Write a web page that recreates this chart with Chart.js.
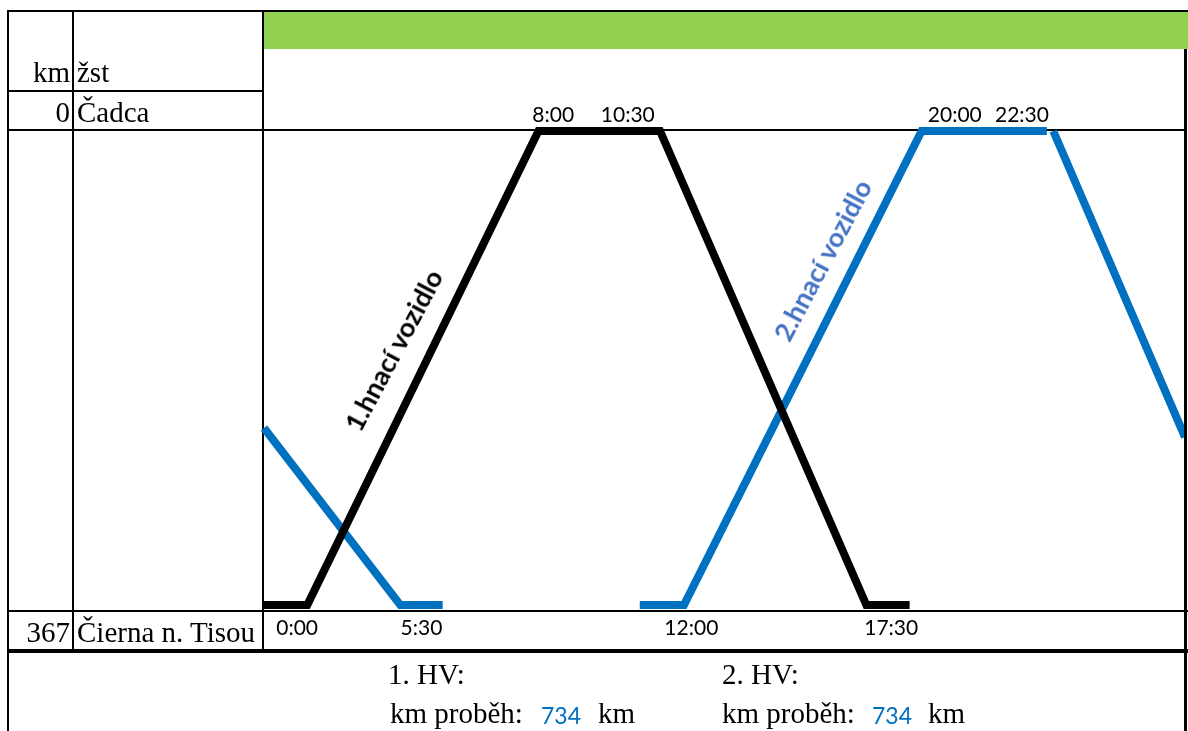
<!DOCTYPE html>
<html>
<head>
<meta charset="utf-8">
<script src="https://cdn.jsdelivr.net/npm/chart.js@4.4.0/dist/chart.umd.min.js"></script>
<style>
body{margin:0;background:#fff;}
#wrap{position:relative;width:1188px;height:731px;overflow:hidden;font-family:"Liberation Serif","Times New Roman",serif;}
#myChart{position:absolute;left:0;top:0;z-index:2;}
.ln{position:absolute;background:#000;z-index:1;}
.top{z-index:3;}
.t{position:absolute;font-size:29px;line-height:29px;white-space:nowrap;color:#000;z-index:3;}
.r{text-align:right;}
.num{position:absolute;font-family:Lato,sans-serif;font-size:23px;line-height:23px;color:#0070C0;z-index:3;}
.rot{position:absolute;font-family:Lato,sans-serif;font-weight:bold;font-size:27px;line-height:27px;white-space:nowrap;z-index:3;transform:translate(-50%,-50%) rotate(-62deg);}
</style>
</head>
<body>
<div id="wrap">
  <div style="position:absolute;left:263px;top:11px;width:925px;height:38px;background:#92D050;"></div>

  <!-- table lines -->
  <div class="ln" style="left:8px;top:10px;width:1180px;height:2px;"></div>
  <div class="ln" style="left:7px;top:10px;width:2px;height:721px;"></div>
  <div class="ln" style="left:72px;top:10px;width:2px;height:641px;"></div>
  <div class="ln" style="left:262px;top:10px;width:2px;height:641px;"></div>
  <div class="ln" style="left:8px;top:90px;width:255px;height:2px;"></div>
  <div class="ln" style="left:8px;top:129px;width:1178px;height:2px;"></div>
  <div class="ln" style="left:8px;top:610px;width:1180px;height:2px;"></div>
  <div class="ln" style="left:8px;top:649px;width:1180px;height:4px;"></div>
  <div class="ln top" style="left:1184px;top:49px;width:3px;height:682px;"></div>

  <div class="t r" style="left:0;width:70px;top:58px;">km</div>
  <div class="t" style="left:77px;top:58px;">žst</div>
  <div class="t r" id="km0" style="left:0;width:70px;top:98px;"></div>
  <div class="t" id="st0" style="left:77px;top:98px;"></div>
  <div class="t r" id="km1" style="left:0;width:70px;top:618px;"></div>
  <div class="t" id="st1" style="left:77px;top:618px;"></div>

  <div class="t" style="left:388px;top:660px;">1. HV:</div>
  <div class="t" style="left:390px;top:699px;">km proběh:</div>
  <div class="num" id="beh1" style="left:541px;top:703.5px;"></div>
  <div class="t" style="left:598px;top:699px;">km</div>

  <div class="t" style="left:722px;top:660px;">2. HV:</div>
  <div class="t" style="left:722px;top:699px;">km proběh:</div>
  <div class="num" id="beh2" style="left:872px;top:703.5px;"></div>
  <div class="t" style="left:928px;top:699px;">km</div>

  <div class="rot" style="left:393px;top:350px;color:#000;">1.hnací vozidlo</div>
  <div class="rot" style="left:822px;top:260px;color:#4472C4;">2.hnací vozidlo</div>

  <canvas id="myChart" width="1188" height="731"></canvas>
</div>
<script>
// stations and km
const stanice = ['Čadca', 'Čierna n. Tisou'];
const kmStanic = [0, 367];

// km run of each locomotive
const kmBeh = [734, 734];

// position on the (schematic) time axis, 0-100
const hv1Pos = [0, 4.7, 29.8, 43.0, 65.4, 70.1];
const hv1Km = [367, 367, 0, 0, 367, 367];

const hv2Pos = [0, 14.8, 19.4, 30, 40.8, 45.6, 71.4, 85.0, 85.3, 85.7, 100];
const hv2Km = [230, 367, 367, null, 367, 367, 0, 0, null, 0, 237];

// time labels
const dolniCasy = ['0:00', '5:30', '12:00', '17:30'];
const dolniPos = [3.6, 17.1, 46.4, 68.1];
const horniCasy = ['8:00', '10:30', '20:00', '22:30'];
const horniPos = [31.4, 39.5, 75.0, 82.3];

document.getElementById('km0').textContent = kmStanic[0];
document.getElementById('km1').textContent = kmStanic[1];
document.getElementById('st0').textContent = stanice[0];
document.getElementById('st1').textContent = stanice[1];
document.getElementById('beh1').textContent = kmBeh[0];
document.getElementById('beh2').textContent = kmBeh[1];

let hv1Data = hv1Pos.map((p, i) => ({x: p, y: hv1Km[i]}));
let hv2Data = hv2Pos.map((p, i) => ({x: p, y: hv2Km[i]}));

const tickFont = {family: 'Lato', size: 21};

new Chart(document.getElementById('myChart'), {
  type: 'line',
  data: {
    datasets: [
      {label: '1.hnací vozidlo', data: hv1Data, borderColor: '#000000', borderWidth: 8, clip: {left: 4, top: 6, right: 0, bottom: 6}},
      {label: '2.hnací vozidlo', data: hv2Data, borderColor: '#0070C0', borderWidth: 8, clip: {left: 4, top: 6, right: 0, bottom: 6}}
    ]
  },
  options: {
    responsive: false,
    animation: false,
    spanGaps: false,
    elements: {point: {radius: 0}, line: {tension: 0}},
    layout: {padding: {left: 264, right: 3, top: 103, bottom: 90}},
    plugins: {legend: {display: false}, tooltip: {enabled: false}},
    scales: {
      x: {
        type: 'linear', position: 'bottom', min: 0, max: 100,
        grid: {display: false, drawTicks: false}, border: {display: false},
        afterBuildTicks: axis => { axis.ticks = dolniPos.map(v => ({value: v})); },
        afterFit: axis => { axis.height = 36; },
        ticks: {autoSkip: false, maxRotation: 0, padding: 11, color: '#000', font: tickFont,
          callback: (v, i) => dolniCasy[i]}
      },
      x2: {
        type: 'linear', position: 'top', min: 0, max: 100,
        grid: {display: false, drawTicks: false}, border: {display: false},
        afterBuildTicks: axis => { axis.ticks = horniPos.map(v => ({value: v})); },
        afterFit: axis => { axis.height = 28; },
        ticks: {autoSkip: false, maxRotation: 0, padding: 3, color: '#000', font: tickFont,
          callback: (v, i) => horniCasy[i]}
      },
      y: {
        type: 'linear', reverse: true, min: 0, max: 367, display: false
      }
    }
  }
});
</script>
</body>
</html>
